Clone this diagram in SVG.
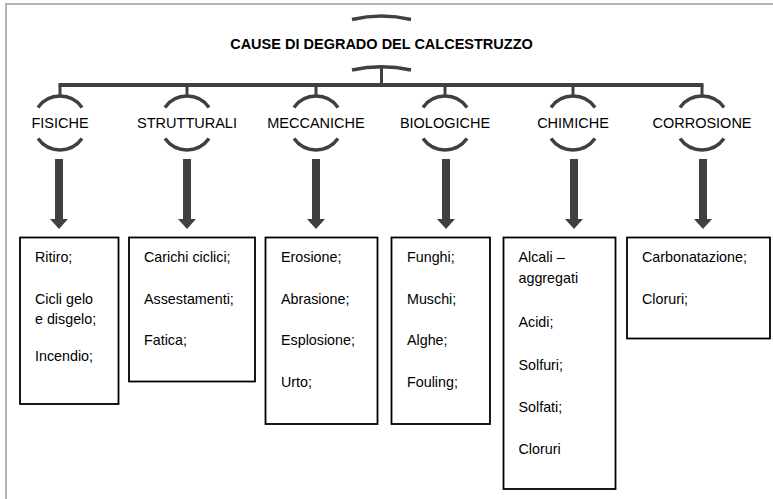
<svg xmlns="http://www.w3.org/2000/svg" xmlns:xlink="http://www.w3.org/1999/xlink" width="773" height="499" viewBox="0 0 773 499">
<style>
.frame{stroke:#b4b4b4;stroke-width:2;fill:none}
.br{stroke:#404040;stroke-width:3.5;fill:none}
.ln{stroke:#404040;stroke-width:4;fill:none}
.stub{stroke:#404040;stroke-width:3;fill:none}
.arrow{fill:#404040}
.box{fill:#fff;stroke:#000;stroke-width:1.8}
.title{font-family:"Liberation Sans",Arial,sans-serif;font-weight:bold;font-size:14.5px;fill:#000;text-anchor:middle}
.cat{font-family:"Liberation Sans",Arial,sans-serif;font-size:14.5px;fill:#000;text-anchor:middle}
.item{font-family:"Liberation Sans",Arial,sans-serif;font-size:14.3px;fill:#000}
</style>
<defs>
<path id="arr" d="M-4 159 H4 V219 H9 L0 229 L-9 219 H-4 Z"/>
<path id="brk" d="M-22 107.4 A27 27 0 0 1 22 107.4 M-22 138.6 A27 27 0 0 0 22 138.6"/>
</defs>
<rect width="773" height="499" fill="#fff"/>
<path class="frame" d="M5 4 H773 M6 4 V499"/>

<g id="title">
<path class="br" d="M352 19.5 Q381.5 12.5 411 19.5 M352 70 Q381.5 63.5 411 70"/>
<text class="title" x="381.5" y="48.5">CAUSE DI DEGRADO DEL CALCESTRUZZO</text>
</g>

<g id="connectors">
<path class="stub" d="M381.5 67 V85"/>
<path class="ln" d="M58.5 85 H703.5"/>
<path class="stub" d="M60 85 V96 M187 85 V96 M316 85 V96 M445 85 V96 M573 85 V96 M702 85 V96"/>
<use href="#arr" xlink:href="#arr" class="arrow" x="59"/>
<use href="#arr" xlink:href="#arr" class="arrow" x="187"/>
<use href="#arr" xlink:href="#arr" class="arrow" x="316"/>
<use href="#arr" xlink:href="#arr" class="arrow" x="446"/>
<use href="#arr" xlink:href="#arr" class="arrow" x="574"/>
<use href="#arr" xlink:href="#arr" class="arrow" x="703"/>
</g>

<g id="cat-fisiche">
<use href="#brk" xlink:href="#brk" class="br" x="60"/>
<text class="cat" x="60" y="127.5">FISICHE</text>
</g>
<g id="cat-strutturali">
<use href="#brk" xlink:href="#brk" class="br" x="187"/>
<text class="cat" x="187" y="127.5">STRUTTURALI</text>
</g>
<g id="cat-meccaniche">
<use href="#brk" xlink:href="#brk" class="br" x="316"/>
<text class="cat" x="316" y="127.5">MECCANICHE</text>
</g>
<g id="cat-biologiche">
<use href="#brk" xlink:href="#brk" class="br" x="445"/>
<text class="cat" x="445" y="127.5">BIOLOGICHE</text>
</g>
<g id="cat-chimiche">
<use href="#brk" xlink:href="#brk" class="br" x="573"/>
<text class="cat" x="573" y="127.5">CHIMICHE</text>
</g>
<g id="cat-corrosione">
<use href="#brk" xlink:href="#brk" class="br" x="702"/>
<text class="cat" x="702" y="127.5">CORROSIONE</text>
</g>

<g id="box-fisiche">
<rect class="box" x="20" y="237.5" width="98.5" height="166.5"/>
<text class="item"><tspan x="35" y="262">Ritiro;</tspan><tspan x="35" y="304">Cicli gelo</tspan><tspan x="35" y="323.5">e disgelo;</tspan><tspan x="35" y="361">Incendio;</tspan></text>
</g>
<g id="box-strutturali">
<rect class="box" x="129" y="237.5" width="126" height="144"/>
<text class="item"><tspan x="144" y="262">Carichi ciclici;</tspan><tspan x="144" y="304">Assestamenti;</tspan><tspan x="144" y="345">Fatica;</tspan></text>
</g>
<g id="box-meccaniche">
<rect class="box" x="265.5" y="237.5" width="112" height="186.5"/>
<text class="item"><tspan x="281" y="262">Erosione;</tspan><tspan x="281" y="304">Abrasione;</tspan><tspan x="281" y="345">Esplosione;</tspan><tspan x="281" y="387">Urto;</tspan></text>
</g>
<g id="box-biologiche">
<rect class="box" x="391.5" y="237.5" width="98.5" height="186.5"/>
<text class="item"><tspan x="407" y="262">Funghi;</tspan><tspan x="407" y="304">Muschi;</tspan><tspan x="407" y="345">Alghe;</tspan><tspan x="407" y="387">Fouling;</tspan></text>
</g>
<g id="box-chimiche">
<rect class="box" x="503.5" y="237.5" width="112" height="251.5"/>
<text class="item"><tspan x="518.5" y="262">Alcali –</tspan><tspan x="518.5" y="283">aggregati</tspan><tspan x="518.5" y="327">Acidi;</tspan><tspan x="518.5" y="370">Solfuri;</tspan><tspan x="518.5" y="412">Solfati;</tspan><tspan x="518.5" y="454">Cloruri</tspan></text>
</g>
<g id="box-corrosione">
<rect class="box" x="627" y="237.5" width="143" height="101"/>
<text class="item"><tspan x="642" y="262">Carbonatazione;</tspan><tspan x="642" y="304">Cloruri;</tspan></text>
</g>
</svg>
